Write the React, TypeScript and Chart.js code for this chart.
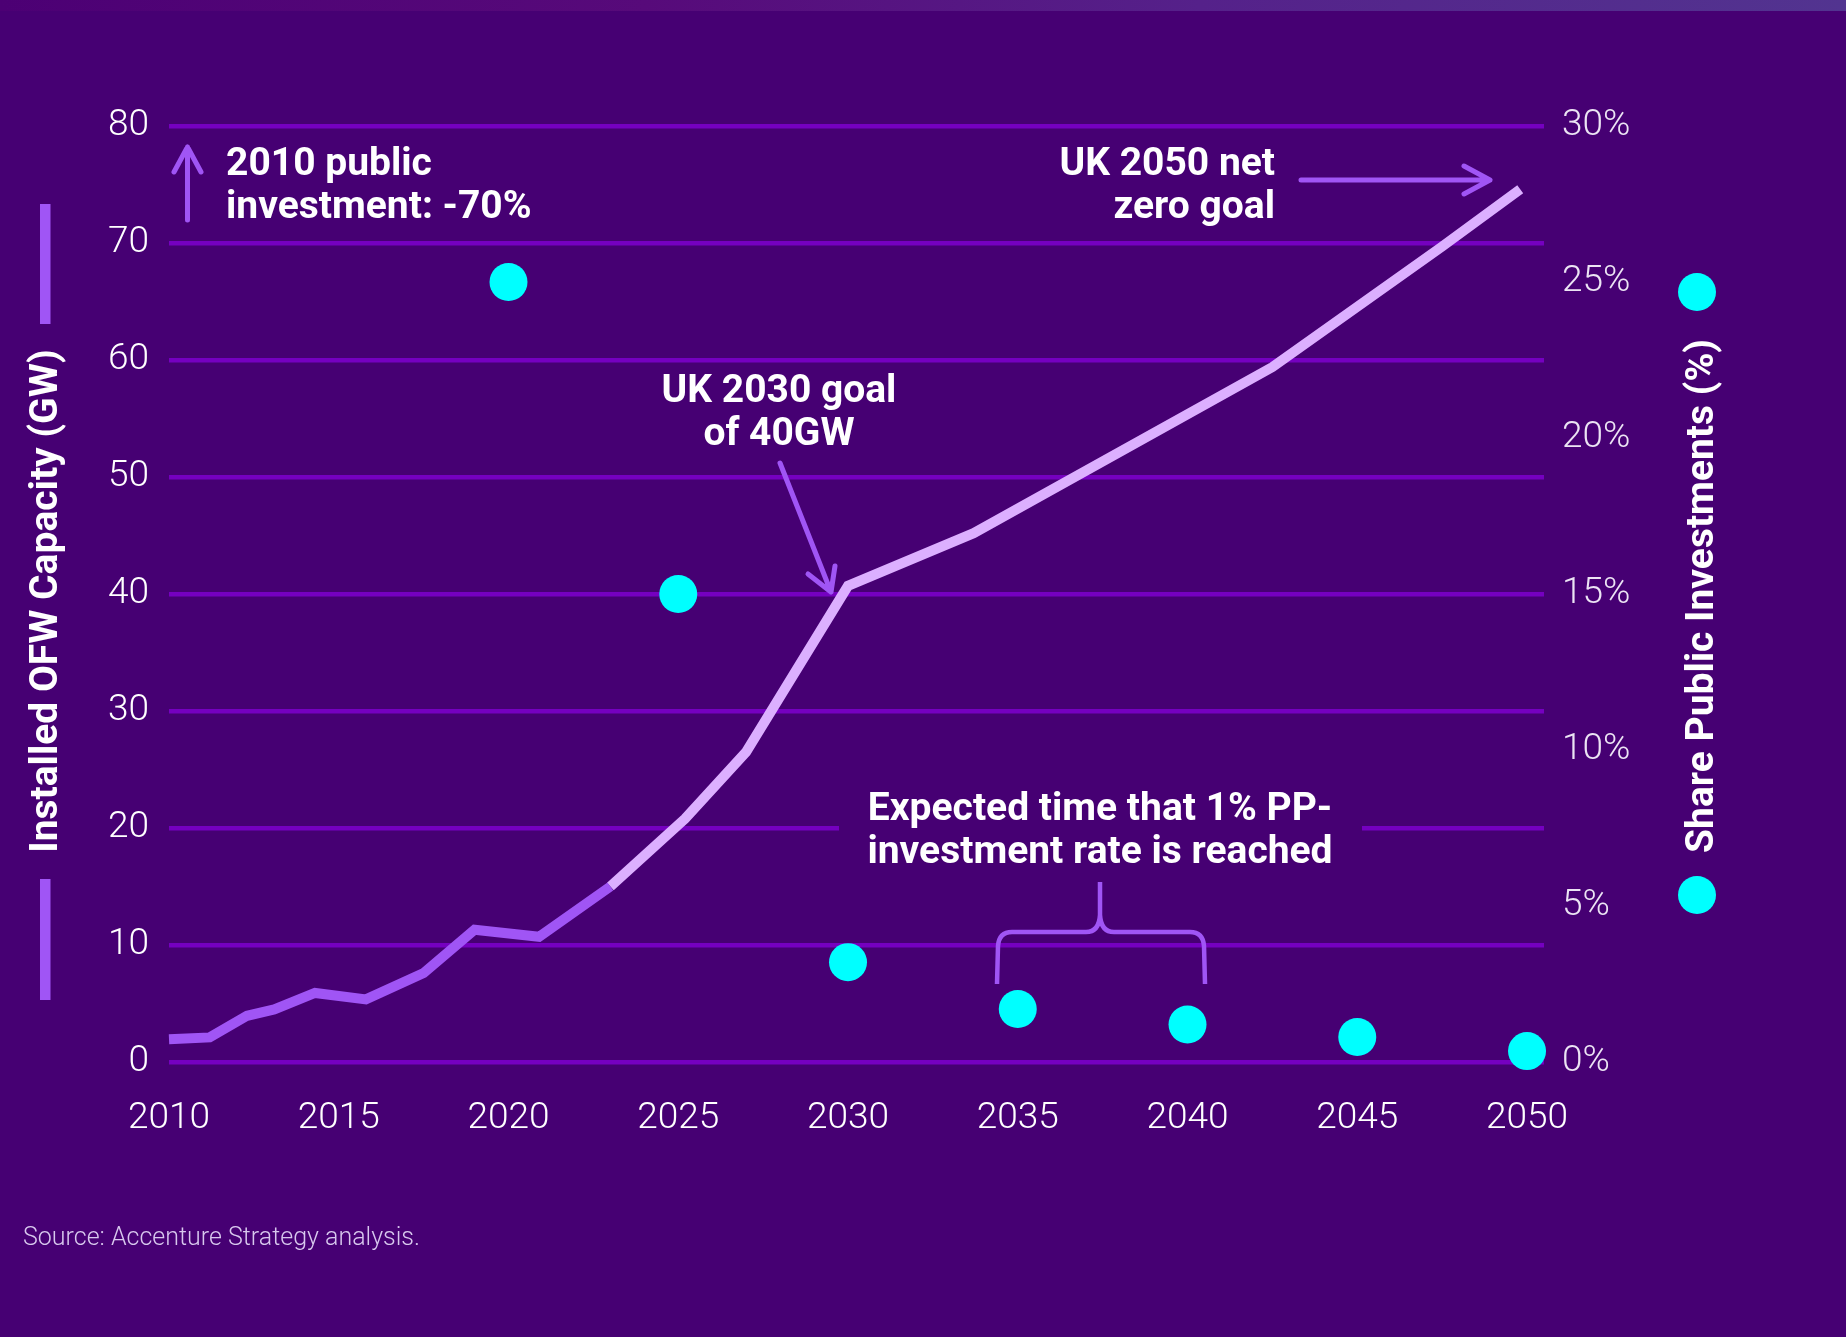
import React, { useEffect, useRef } from 'react';
import { Chart, registerables } from 'chart.js';

Chart.register(...registerables);

// ---- Data ----
const histYears = [2010, 2011.2, 2012.3, 2013.1, 2014.3, 2015.8, 2017.5, 2019.0, 2020.9, 2023.0];
const histGW = [1.95, 2.1, 3.95, 4.5, 5.9, 5.35, 7.6, 11.3, 10.7, 15.0];
const projYears = [2023.0, 2025.2, 2027.0, 2030.0, 2033.7, 2042.5, 2047.5, 2049.8];
const projGW = [15.0, 20.8, 26.5, 40.7, 45.2, 59.4, 69.7, 74.6];
const shareYears = [2020, 2025, 2030, 2035, 2040, 2045, 2050];
const sharePct = [25, 15, 3.2, 1.7, 1.2, 0.8, 0.35];
const xTicks = [2010, 2015, 2020, 2025, 2030, 2035, 2040, 2045, 2050];

const leftTitle = 'Installed OFW Capacity (GW)';
const rightTitle = 'Share Public Investments (%)';
const note2010 = ['2010 public', 'investment: -70%'];
const note2050 = ['UK 2050 net', 'zero goal'];
const note2030 = ['UK 2030 goal', 'of 40GW'];
const noteExpected = ['Expected time that 1% PP-', 'investment rate is reached'];
const sourceText = 'Source: Accenture Strategy analysis.';

const BG = '#460073';
const GRID = '#7500C0';
const PURPLE = '#A055F5';
const LIGHT = '#DCAFFF';
const CYAN = '#00FFFF';
const BOLD = '700 39px Roboto, "Liberation Sans", sans-serif';

const W = 1846;
const H = 1337;

function drawLines(ctx: CanvasRenderingContext2D, lines: string[], x: number, y: number, lh: number, align: CanvasTextAlign) {
  ctx.textAlign = align;
  ctx.textBaseline = 'alphabetic';
  lines.forEach((l, i) => ctx.fillText(l, x, y + i * lh));
}

function arrow(ctx: CanvasRenderingContext2D, x1: number, y1: number, x2: number, y2: number, a1: [number, number], a2: [number, number]) {
  ctx.beginPath();
  ctx.moveTo(x1, y1);
  ctx.lineTo(x2, y2);
  ctx.moveTo(a1[0], a1[1]);
  ctx.lineTo(x2, y2);
  ctx.lineTo(a2[0], a2[1]);
  ctx.stroke();
}

const overlay = {
  id: 'overlay',
  beforeDraw(chart: any) {
    const ctx: CanvasRenderingContext2D = chart.ctx;
    ctx.save();
    ctx.fillStyle = BG;
    ctx.fillRect(0, 0, W, H);
    const g = ctx.createLinearGradient(0, 0, W, 0);
    g.addColorStop(0, '#4c0074');
    g.addColorStop(0.35, '#570a7a');
    g.addColorStop(0.65, '#55218a');
    g.addColorStop(1, '#523490');
    ctx.fillStyle = g;
    ctx.fillRect(0, 0, W, 11);
    ctx.restore();
  },
  beforeDatasetsDraw(chart: any) {
    const ctx: CanvasRenderingContext2D = chart.ctx;
    ctx.save();
    ctx.fillStyle = BG;
    ctx.fillRect(839, 818, 523, 20);
    ctx.restore();
  },
  afterDraw(chart: any) {
    const ctx: CanvasRenderingContext2D = chart.ctx;
    ctx.save();
    // annotations text
    ctx.fillStyle = '#ffffff';
    ctx.font = BOLD;
    drawLines(ctx, note2010, 226, 175, 43, 'left');
    drawLines(ctx, note2050, 1275, 175, 43, 'right');
    drawLines(ctx, note2030, 779, 402, 43, 'center');
    drawLines(ctx, noteExpected, 1100, 820, 43, 'center');

    // arrows
    ctx.strokeStyle = PURPLE;
    ctx.lineWidth = 5;
    ctx.lineCap = 'round';
    ctx.lineJoin = 'round';
    arrow(ctx, 187.5, 220, 187.5, 147, [174, 172], [201, 172]);
    arrow(ctx, 1301, 180, 1490, 180, [1464, 166], [1464, 194]);
    arrow(ctx, 780, 463, 831, 592, [808, 574], [835, 566]);

    // brace
    ctx.lineWidth = 4.5;
    ctx.lineCap = 'butt';
    ctx.beginPath();
    ctx.moveTo(997, 984);
    ctx.lineTo(998, 946);
    ctx.quadraticCurveTo(999, 932, 1012, 932);
    ctx.lineTo(1086, 932);
    ctx.quadraticCurveTo(1099, 932, 1100, 915);
    ctx.lineTo(1100, 882);
    ctx.moveTo(1100, 915);
    ctx.quadraticCurveTo(1101, 932, 1114, 932);
    ctx.lineTo(1190, 932);
    ctx.quadraticCurveTo(1203, 932, 1204, 946);
    ctx.lineTo(1205, 984);
    ctx.stroke();

    // left axis title with bars
    ctx.fillStyle = PURPLE;
    ctx.fillRect(40, 204, 10.5, 120);
    ctx.fillRect(40, 879, 10.5, 121);
    ctx.fillStyle = '#ffffff';
    ctx.font = BOLD;
    ctx.save();
    ctx.translate(57, 601);
    ctx.rotate(-Math.PI / 2);
    ctx.textAlign = 'center';
    ctx.textBaseline = 'alphabetic';
    ctx.fillText(leftTitle, 0, 0);
    ctx.restore();

    // right axis title with legend dots
    ctx.save();
    ctx.translate(1713, 596);
    ctx.rotate(-Math.PI / 2);
    ctx.textAlign = 'center';
    ctx.textBaseline = 'alphabetic';
    ctx.fillText(rightTitle, 0, 0);
    ctx.restore();
    ctx.fillStyle = CYAN;
    [292, 895].forEach((cy) => {
      ctx.beginPath();
      ctx.arc(1697, cy, 19, 0, Math.PI * 2);
      ctx.fill();
    });

    // source
    ctx.fillStyle = '#d8c8ee';
    ctx.font = '300 25px Roboto, "Liberation Sans", sans-serif';
    ctx.textAlign = 'left';
    ctx.textBaseline = 'alphabetic';
    ctx.fillText(sourceText, 23, 1245);
    ctx.restore();
  },
};

export default function App() {
  const ref = useRef<HTMLCanvasElement | null>(null);

  useEffect(() => {
    if (!ref.current) return;
    const tickFont = { family: 'Roboto, "Liberation Sans", sans-serif', size: 37, weight: '300' as any };
    const chart = new Chart(ref.current, {
      type: 'line',
      data: {
        datasets: [
          {
            label: 'Installed (historical)',
            data: histYears.map((x, i) => ({ x, y: histGW[i] })),
            borderColor: PURPLE,
            borderWidth: 10,
            pointRadius: 0,
            tension: 0,
            borderJoinStyle: 'miter',
            borderCapStyle: 'butt',
            yAxisID: 'y',
            clip: false as any,
            order: 2,
          },
          {
            label: 'Installed (projection)',
            data: projYears.map((x, i) => ({ x, y: projGW[i] })),
            borderColor: LIGHT,
            borderWidth: 10,
            pointRadius: 0,
            tension: 0,
            borderJoinStyle: 'miter',
            borderCapStyle: 'butt',
            yAxisID: 'y',
            clip: false as any,
            order: 3,
          },
          {
            label: 'Share public investments',
            type: 'scatter' as any,
            data: shareYears.map((x, i) => ({ x, y: sharePct[i] })),
            backgroundColor: CYAN,
            borderWidth: 0,
            pointRadius: 19,
            pointHoverRadius: 19,
            showLine: false,
            yAxisID: 'y2',
            clip: false as any,
            order: 1,
          },
        ] as any,
      },
      options: {
        responsive: false,
        animation: false,
        events: [],
        layout: { padding: { top: 126, left: 0, right: 0, bottom: 0 } },
        plugins: {
          legend: { display: false },
          title: { display: false },
          tooltip: { enabled: false },
        },
        scales: {
          x: {
            type: 'linear',
            min: 2010,
            max: 2050.5,
            grid: { display: false },
            border: { display: false },
            afterBuildTicks: (s: any) => {
              s.ticks = xTicks.map((v) => ({ value: v }));
            },
            afterFit: (s: any) => {
              s.height = H - 1062;
            },
            ticks: {
              autoSkip: false,
              maxRotation: 0,
              padding: 27,
              color: '#ffffff',
              font: tickFont,
              callback: (v: any) => String(v),
            },
          },
          y: {
            position: 'left',
            min: 0,
            max: 80,
            afterFit: (s: any) => {
              s.width = 169;
            },
            grid: { color: GRID, lineWidth: 4.5, drawTicks: false },
            border: { display: false },
            ticks: {
              stepSize: 10,
              padding: 20,
              color: '#ffffff',
              font: tickFont,
            },
          },
          y2: {
            position: 'right',
            min: 0,
            max: 30,
            afterFit: (s: any) => {
              s.width = W - 1544;
            },
            grid: { display: false, drawTicks: false },
            border: { display: false },
            ticks: {
              stepSize: 5,
              padding: 18,
              color: '#ece4f4',
              font: tickFont,
              callback: (v: any) => v + '%',
            },
          },
        },
      } as any,
      plugins: [overlay],
    });
    return () => chart.destroy();
  }, []);

  return (
    <div style={{ position: 'fixed', left: 0, top: 0, width: W, height: H, background: BG }}>
      <canvas ref={ref} width={W} height={H} style={{ display: 'block', width: W, height: H }} />
    </div>
  );
}
